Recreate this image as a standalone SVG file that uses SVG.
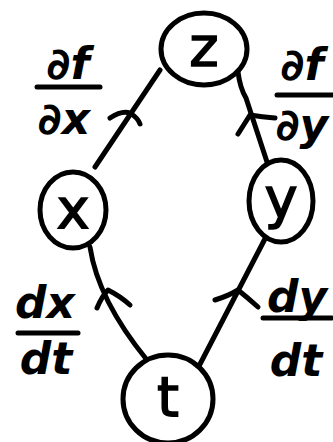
<svg xmlns="http://www.w3.org/2000/svg" width="333" height="442" viewBox="0 0 333 442">
<style>
.ln{fill:none;stroke:#000;stroke-width:5;stroke-linecap:round;stroke-linejoin:round}
.nd{fill:#fff;stroke:#000;stroke-width:5}
.nt{font-family:"DejaVu Sans",sans-serif;font-size:56px;fill:#000;stroke:#000;stroke-width:1.5;text-anchor:middle;dominant-baseline:central}
.lb{font-family:"DejaVu Sans",sans-serif;font-size:44px;font-style:italic;font-weight:bold;fill:#000;text-anchor:middle}
</style>
<rect width="333" height="442" fill="#fff"/>
<g id="connectors">
<path class="ln" d="M95,167 L160,70"/>
<path class="ln" d="M110,118 Q122,110 130,113 Q138,118 140,124"/>
<path class="ln" d="M238,72 Q240,88 246,98 L268,165"/>
<path class="ln" d="M238,134 L250,115 Q262,117 275,118"/>
<path class="ln" d="M90,247 Q98,300 147,360"/>
<path class="ln" d="M97,308 Q102,296 108,290 Q120,296 130,305"/>
<path class="ln" d="M268,233 L198,368"/>
<path class="ln" d="M215,300 Q228,296 238,290 Q248,298 258,307"/>
</g>
<g id="node-z"><ellipse class="nd" cx="204" cy="49" rx="43" ry="36"/><text class="nt" x="204" y="46">z</text></g>
<g id="node-x"><ellipse class="nd" cx="73" cy="210" rx="33" ry="38"/><text class="nt" x="73" y="208">x</text></g>
<g id="node-y"><ellipse class="nd" cx="281" cy="201" rx="32" ry="41"/><text class="nt" x="281" y="197">y</text></g>
<g id="node-t"><ellipse class="nd" cx="168" cy="399" rx="45" ry="44"/><text class="nt" x="168" y="396">t</text></g>
<g id="label-dfdx">
<text class="lb" x="68" y="79">∂f</text>
<line class="ln" x1="37" y1="87" x2="100" y2="87"/>
<text class="lb" x="64" y="134">∂x</text>
</g>
<g id="label-dfdy">
<text class="lb" x="302" y="80">∂f</text>
<line class="ln" x1="277" y1="95" x2="335" y2="95"/>
<text class="lb" x="302" y="140">∂y</text>
</g>
<g id="label-dxdt">
<text class="lb" x="45" y="318">dx</text>
<line class="ln" x1="18" y1="333" x2="78" y2="333"/>
<text class="lb" x="46" y="374">dt</text>
</g>
<g id="label-dydt">
<text class="lb" x="297" y="312">dy</text>
<line class="ln" x1="263" y1="318" x2="332" y2="318"/>
<text class="lb" x="296" y="376">dt</text>
</g>
</svg>
